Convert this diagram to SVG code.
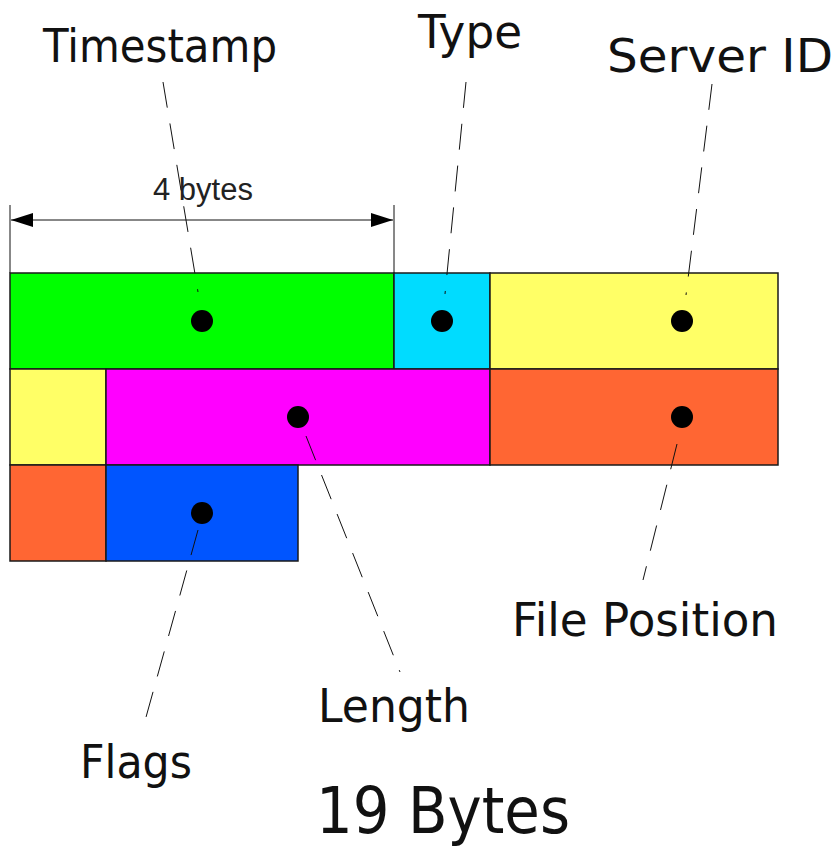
<svg xmlns="http://www.w3.org/2000/svg" width="840" height="849" viewBox="0 0 840 849">
<style>
.f{stroke:#1a1a1a;stroke-width:1.5}
.lbl{font-family:"Comic Sans MS","DejaVu Sans",sans-serif;font-size:46px;fill:#111;text-anchor:middle}
.big{font-size:64px}
.lead{stroke:#111;stroke-width:1;stroke-dasharray:26,16;fill:none}
.dot{fill:#000}
</style>
<defs>
<marker id="ah" viewBox="0 0 22 14" refX="22" refY="7" markerWidth="22" markerHeight="14" markerUnits="userSpaceOnUse" orient="auto-start-reverse">
<path d="M0,0 L22,7 L0,14 Z" fill="#000"/>
</marker>
</defs>
<rect width="840" height="849" fill="#fff"/>
<g id="dimension">
<line x1="10" y1="205" x2="10" y2="273" stroke="#111" stroke-width="1"/>
<line x1="394" y1="205" x2="394" y2="273" stroke="#111" stroke-width="1"/>
<line x1="11" y1="220" x2="393" y2="220" stroke="#111" stroke-width="1" marker-start="url(#ah)" marker-end="url(#ah)"/>
<text x="203" y="200" font-family="Liberation Sans,Arial,sans-serif" font-size="31" fill="#222" text-anchor="middle">4 bytes</text>
</g>
<g id="timestamp"><rect class="f" x="10" y="273" width="384" height="96" fill="#00ff00"/><circle class="dot" cx="202" cy="321" r="11"/></g>
<g id="type"><rect class="f" x="394" y="273" width="96" height="96" fill="#00dcff"/><circle class="dot" cx="442" cy="321" r="11"/></g>
<g id="server-id"><rect class="f" x="490" y="273" width="288" height="96" fill="#ffff66"/><circle class="dot" cx="682" cy="321" r="11"/></g>
<g id="server-id-2"><rect class="f" x="10" y="369" width="96" height="96" fill="#ffff66"/></g>
<g id="length"><rect class="f" x="106" y="369" width="384" height="96" fill="#ff00ff"/><circle class="dot" cx="298" cy="417" r="11"/></g>
<g id="file-position"><rect class="f" x="490" y="369" width="288" height="96" fill="#ff6633"/><circle class="dot" cx="682" cy="417" r="11"/></g>
<g id="file-position-2"><rect class="f" x="10" y="465" width="96" height="96" fill="#ff6633"/></g>
<g id="flags"><rect class="f" x="106" y="465" width="192" height="96" fill="#0055ff"/><circle class="dot" cx="202" cy="513" r="11"/></g>
<g id="connectors">
<line class="lead" x1="163" y1="82" x2="198" y2="292"/>
<line class="lead" x1="466" y1="82" x2="445" y2="294"/>
<line class="lead" x1="712" y1="84" x2="686" y2="295"/>
<line class="lead" x1="306" y1="436" x2="400" y2="672"/>
<line class="lead" x1="198" y1="530" x2="143" y2="728"/>
<line class="lead" x1="677" y1="444" x2="643" y2="580"/>
</g>
<g id="labels">
<text class="lbl" x="160" y="62" textLength="234" lengthAdjust="spacingAndGlyphs">Timestamp</text>
<text class="lbl" x="470" y="48" textLength="104" lengthAdjust="spacingAndGlyphs">Type</text>
<text class="lbl" x="720" y="72" textLength="226" lengthAdjust="spacingAndGlyphs">Server ID</text>
<text class="lbl" x="645" y="636" textLength="266" lengthAdjust="spacingAndGlyphs">File Position</text>
<text class="lbl" x="394" y="722" textLength="152" lengthAdjust="spacingAndGlyphs">Length</text>
<text class="lbl" x="136" y="778" textLength="112" lengthAdjust="spacingAndGlyphs">Flags</text>
<text class="lbl big" x="443" y="833" textLength="254" lengthAdjust="spacingAndGlyphs">19 Bytes</text>
</g>
</svg>
